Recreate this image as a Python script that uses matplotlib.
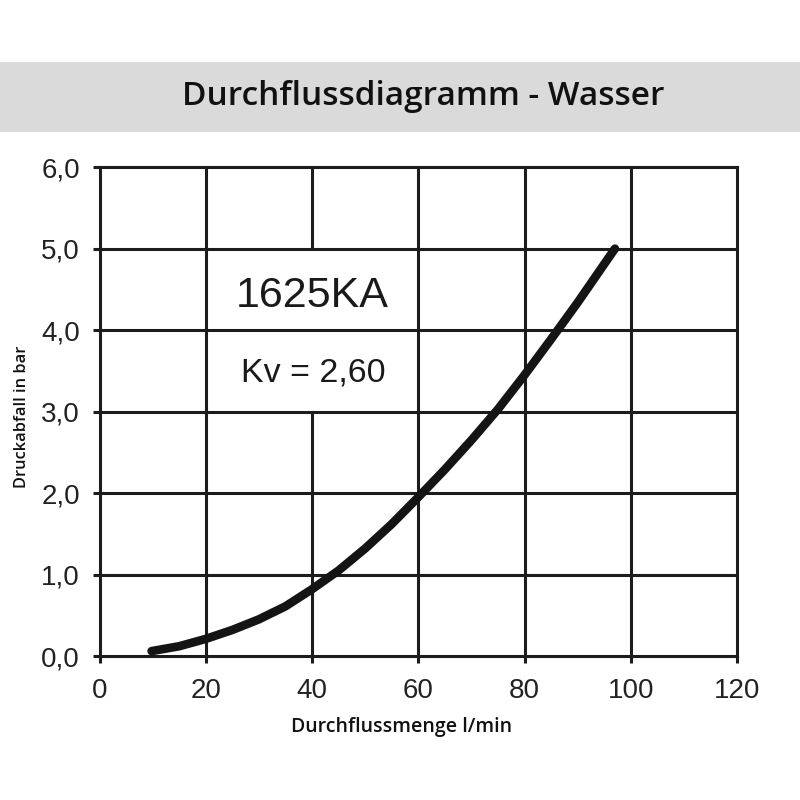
import matplotlib
matplotlib.use("Agg")
import matplotlib.pyplot as plt
from matplotlib.patches import Rectangle

# =============================
# DATA
# =============================
flow = [9.8, 15, 20, 25, 30, 35, 40, 45, 50, 55, 60, 65, 70, 75, 80, 85, 90, 97]
pressure = [0.06, 0.12, 0.21, 0.32, 0.45, 0.61, 0.82, 1.05, 1.32, 1.62, 1.95, 2.29,
            2.65, 3.03, 3.45, 3.89, 4.34, 5.00]

xticks = [0, 20, 40, 60, 80, 100, 120]
yticks = [0, 1, 2, 3, 4, 5, 6]
ytick_labels = ["0,0", "1,0", "2,0", "3,0", "4,0", "5,0", "6,0"]

title = "Durchflussdiagramm - Wasser"
xlabel = "Durchflussmenge l/min"
ylabel = "Druckabfall in bar"
model = "1625KA"
kv_text = "Kv = 2,60"

# vertical grid line hidden behind the label box: (x, y_from, y_to)
label_gap = (40, 3.0, 5.0)

# =============================
# STYLE
# =============================
ink = "#1c1c1c"
grid_lw = 2.2
num_font = ["Liberation Sans", "DejaVu Sans"]
lab_font = ["Open Sans", "DejaVu Sans"]

fig = plt.figure(figsize=(8, 8), dpi=100)
fig.patch.set_facecolor("white")

# grey title band
fig.patches.append(Rectangle((0, 0.835), 1, 0.0875, transform=fig.transFigure,
                             facecolor="#dadada", edgecolor="none", zorder=0))
fig.text(0.529, 0.879, title, ha="center", va="center", fontsize=24,
         family=lab_font, weight="semibold", color="#111111")

ax = fig.add_axes([0.1244, 0.18, 0.797, 0.611])
ax.set_xlim(xticks[0], xticks[-1])
ax.set_ylim(yticks[0], yticks[-1])

# grid, drawn by hand so the label box can interrupt one line
for x in xticks[1:-1]:
    if x == label_gap[0]:
        ax.vlines(x, yticks[0], label_gap[1], color=ink, lw=grid_lw, zorder=1)
        ax.vlines(x, label_gap[2], yticks[-1], color=ink, lw=grid_lw, zorder=1)
    else:
        ax.vlines(x, yticks[0], yticks[-1], color=ink, lw=grid_lw, zorder=1)
for y in yticks[1:-1]:
    ax.hlines(y, xticks[0], xticks[-1], color=ink, lw=grid_lw, zorder=1)

for s in ax.spines.values():
    s.set_linewidth(grid_lw)
    s.set_color(ink)

ax.plot(flow, pressure, color="#141414", lw=6.2, solid_capstyle="round",
        solid_joinstyle="round", zorder=3)

ax.set_xticks(xticks)
ax.set_xticklabels([str(v) for v in xticks], family=num_font, fontsize=20, color="#222222")
ax.set_yticks(yticks)
ax.set_yticklabels(ytick_labels, family=num_font, fontsize=20, color="#222222")
ax.tick_params(axis="both", direction="out", length=5, width=grid_lw, color=ink)
ax.tick_params(axis="x", pad=11)
ax.tick_params(axis="y", pad=9)

ax.set_xlabel(xlabel, family=lab_font, weight="semibold", fontsize=14, color="#111111",
              va="center")
ax.set_ylabel(ylabel, family=lab_font, weight="semibold", fontsize=11.8, color="#111111",
              va="center")
ax.xaxis.set_label_coords(0.473, -0.146)
ax.yaxis.set_label_coords(-0.1216, 0.49)

ax.text(40, 4.28, model, ha="center", va="baseline", fontsize=31,
        family=num_font, color="#1a1a1a", zorder=4)
ax.text(40.2, 3.37, kv_text, ha="center", va="baseline", fontsize=24.5,
        family=num_font, color="#1a1a1a", zorder=4)

plt.savefig("out.png", dpi=100)
